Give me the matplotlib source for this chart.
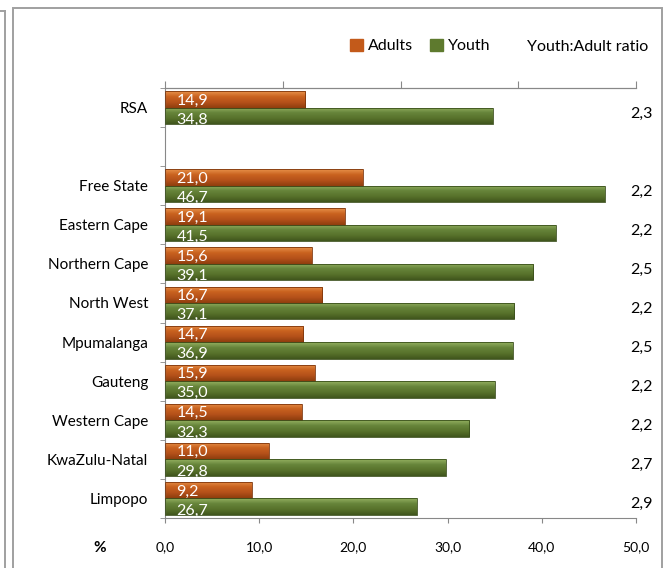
import matplotlib.pyplot as plt
from matplotlib.patches import Rectangle
from matplotlib.lines import Line2D
from matplotlib.colors import LinearSegmentedColormap
import numpy as np

plt.rcParams["font.family"] = ["Lato", "DejaVu Sans"]

regions = ["RSA", "Free State", "Eastern Cape", "Northern Cape", "North West",
           "Mpumalanga", "Gauteng", "Western Cape", "KwaZulu-Natal", "Limpopo"]
adults = [14.9, 21.0, 19.1, 15.6, 16.7, 14.7, 15.9, 14.5, 11.0, 9.2]
youth = [34.8, 46.7, 41.5, 39.1, 37.1, 36.9, 35.0, 32.3, 29.8, 26.7]
ratio = [2.3, 2.2, 2.2, 2.5, 2.2, 2.5, 2.2, 2.2, 2.7, 2.9]
xticks = [0, 10, 20, 30, 40, 50]
top_ticks = [0, 12.5, 25, 37.5, 50]

ORANGE = "#C35A1A"
GREEN = "#5E7A2E"
orange_cm = LinearSegmentedColormap.from_list("o", ["#E8914A", "#C9621F", "#B5511A", "#8F3E0E"])
green_cm = LinearSegmentedColormap.from_list("g", ["#93B060", "#66843A", "#58722B", "#40561D"])


def comma(v):
    return f"{v:.1f}".replace(".", ",")


def shade(bars, cmap):
    # vertical gradient clipped to each bar for the bevelled look
    grad = np.linspace(0, 1, 64).reshape(-1, 1)
    for b in bars:
        x0, y0 = b.get_x(), b.get_y()
        im = ax.imshow(grad, cmap=cmap, aspect="auto", origin="upper",
                       extent=[x0, x0 + b.get_width(), y0 + b.get_height(), y0], zorder=2)
        im.set_clip_path(b)


fig = plt.figure(figsize=(6.72, 5.68), dpi=100)
ax = fig.add_axes([165 / 672, 1 - 518 / 568, 471 / 672, 430 / 568])

# RSA on top, then a blank slot, then provinces
pos = np.array([0] + list(range(2, 2 + len(regions) - 1)))
h = 0.42

b_ad = ax.barh(pos - h / 2, adults, height=h, color=ORANGE, edgecolor="#7E360C", linewidth=0.6, zorder=3)
b_yo = ax.barh(pos + h / 2, youth, height=h, color=GREEN, edgecolor="#3A4F1B", linewidth=0.6, zorder=3)
for b in list(b_ad) + list(b_yo):
    b.set_facecolor("none")
shade(b_ad, orange_cm)
shade(b_yo, green_cm)

for p, a, y, r in zip(pos, adults, youth, ratio):
    ax.text(1.2, p - h / 2 + 0.03, comma(a), color="white", fontsize=11.5, va="center", ha="left", zorder=4)
    ax.text(1.2, p + h / 2 + 0.1, comma(y), color="white", fontsize=11.5, va="center", ha="left", zorder=4)
    ax.text(1.036, p + 0.15, comma(r), transform=ax.get_yaxis_transform(),
            fontsize=11.5, va="center", ha="right")

ax.set_xlim(0, 50)
ax.set_ylim(10.5, -0.5)

ax.set_yticks(pos)
ax.set_yticklabels(regions, fontsize=11)
ax.tick_params(axis="y", length=0, pad=12)
ax.set_yticks(np.arange(-0.5, 11, 1.0), minor=True)
ax.tick_params(axis="y", which="minor", length=3.5, color="#888888")

ax.set_xticks(xticks)
ax.set_xticklabels([comma(v) for v in xticks], fontsize=10)
ax.tick_params(axis="x", direction="out", length=3.5, color="#888888", pad=13)

top = ax.secondary_xaxis("top")
top.set_xticks(top_ticks)
top.set_xticklabels([])
top.tick_params(direction="out", length=5, color="#888888")
top.spines["top"].set_color("#888888")

for s in ["left", "top", "bottom"]:
    ax.spines[s].set_color("#888888")
ax.spines["right"].set_visible(False)

fig.text(100 / 672, 1 - 548 / 568, "%", fontsize=11, fontweight="bold", ha="center", va="center")

# legend
handles = [Rectangle((0, 0), 1, 1, color=ORANGE), Rectangle((0, 0), 1, 1, color=GREEN)]
fig.legend(handles, ["Adults", "Youth"], loc="center left", bbox_to_anchor=(350 / 672, 1 - 46 / 568),
           ncol=2, frameon=False, fontsize=11.5, handlelength=0.8, handleheight=0.8,
           handletextpad=0.3, columnspacing=1.1, borderpad=0, borderaxespad=0)
fig.text(648 / 672, 1 - 47 / 568, "Youth:Adult ratio", fontsize=11.5, ha="right", va="center")

# chart frame and neighbouring panel edge
fig.add_artist(Rectangle((13 / 672, -10 / 568), 649 / 672, 568 / 568 - 8 / 568 + 10 / 568,
                         transform=fig.transFigure, fill=False, edgecolor="#A0A0A0", linewidth=1.4))
fig.add_artist(Line2D([5 / 672, 5 / 672], [0, 1 - 11 / 568], transform=fig.transFigure,
                      color="#A0A0A0", linewidth=1.4))
fig.add_artist(Line2D([0, 5 / 672], [1 - 11 / 568, 1 - 11 / 568], transform=fig.transFigure,
                      color="#A0A0A0", linewidth=1.4))

fig.savefig("out.png", dpi=100)
